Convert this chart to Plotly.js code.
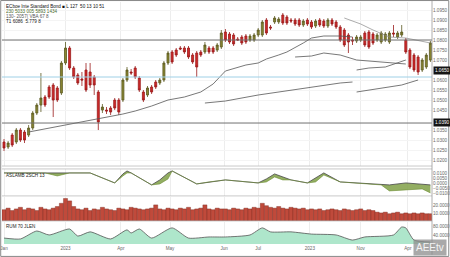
<!DOCTYPE html>
<html><head><meta charset="utf-8">
<script src="https://cdn.plot.ly/plotly-3.0.1.min.js"></script>
<style>html,body{margin:0;padding:0;background:#fff}#chart{width:450px;height:257px}</style>
</head><body><div id="chart"></div>
<script>
// ---- candle data (index positions) ----
const candleIdx = [0,1,2,3,4,5,6,7,8,9,10,11,12,13,14,15,16,17,18,19,20,21,22,23,24,25,26,27,28,29,30,31,32,33,34,35,36,37,38,39,40,41,42,43,44,45,46,47,48,49,50,51,52,53,54,55,56,57,58,59,60,61,62,63,64,65,66,67,68,69,70,71,72,73,74,75,76,77,78,79,80,81,82,83,84,85,86,87,88,89,90,91,92,93,94,95,96,97,98,99,100,101,102,103,104];
const openP = [1.0290,1.0265,1.0325,1.0290,1.0350,1.0340,1.0325,1.0360,1.0435,1.0475,1.0515,1.0565,1.0575,1.0560,1.0535,1.0685,1.0760,1.0660,1.0625,1.0605,1.0650,1.0640,1.0615,1.0540,1.0450,1.0450,1.0460,1.0500,1.0500,1.0500,1.0600,1.0640,1.0660,1.0610,1.0540,1.0525,1.0565,1.0590,1.0585,1.0600,1.0685,1.0740,1.0750,1.0760,1.0760,1.0760,1.0725,1.0735,1.0740,1.0740,1.0760,1.0760,1.0750,1.0765,1.0840,1.0830,1.0825,1.0805,1.0815,1.0820,1.0800,1.0800,1.0825,1.0825,1.0900,1.0865,1.0890,1.0890,1.0925,1.0915,1.0900,1.0900,1.0900,1.0875,1.0900,1.0890,1.0870,1.0900,1.0895,1.0870,1.0900,1.0890,1.0865,1.0850,1.0825,1.0800,1.0795,1.0800,1.0835,1.0840,1.0830,1.0800,1.0790,1.0800,1.0790,1.0835,1.0815,1.0825,1.0800,1.0750,1.0725,1.0715,1.0650,1.0665,1.0700];
const highP = [1.0305,1.0295,1.0335,1.0360,1.0360,1.0350,1.0375,1.0445,1.0485,1.0635,1.0525,1.0575,1.0585,1.0570,1.0695,1.0790,1.0770,1.0670,1.0635,1.0640,1.0685,1.0685,1.0625,1.0550,1.0480,1.0465,1.0470,1.0510,1.0510,1.0610,1.0665,1.0655,1.0670,1.0620,1.0550,1.0570,1.0575,1.0600,1.0610,1.0695,1.0745,1.0750,1.0760,1.0770,1.0770,1.0770,1.0735,1.0745,1.0750,1.0790,1.0770,1.0770,1.0785,1.0850,1.0855,1.0840,1.0835,1.0815,1.0825,1.0830,1.0830,1.0835,1.0860,1.0900,1.0910,1.0875,1.0920,1.0915,1.0935,1.0925,1.0910,1.0910,1.0910,1.0905,1.0910,1.0900,1.0905,1.0910,1.0905,1.0910,1.0910,1.0900,1.0875,1.0860,1.0835,1.0815,1.0825,1.0825,1.0845,1.0850,1.0840,1.0835,1.0845,1.0840,1.0845,1.0875,1.0845,1.0875,1.0810,1.0760,1.0735,1.0725,1.0710,1.0735,1.0795];
const lowP = [1.0245,1.0255,1.0265,1.0280,1.0290,1.0285,1.0315,1.0350,1.0425,1.0440,1.0465,1.0505,1.0415,1.0490,1.0525,1.0675,1.0650,1.0605,1.0575,1.0570,1.0540,1.0560,1.0525,1.0350,1.0435,1.0430,1.0425,1.0450,1.0425,1.0490,1.0590,1.0625,1.0605,1.0540,1.0490,1.0515,1.0530,1.0555,1.0575,1.0590,1.0675,1.0680,1.0715,1.0750,1.0730,1.0705,1.0680,1.0615,1.0715,1.0730,1.0730,1.0730,1.0740,1.0755,1.0790,1.0780,1.0770,1.0795,1.0775,1.0780,1.0790,1.0790,1.0815,1.0815,1.0825,1.0850,1.0880,1.0880,1.0875,1.0875,1.0885,1.0870,1.0865,1.0865,1.0870,1.0855,1.0860,1.0865,1.0860,1.0860,1.0870,1.0855,1.0790,1.0765,1.0735,1.0775,1.0785,1.0790,1.0765,1.0755,1.0775,1.0790,1.0780,1.0790,1.0780,1.0815,1.0805,1.0815,1.0730,1.0655,1.0640,1.0625,1.0640,1.0655,1.0690];
const closeP = [1.0260,1.0285,1.0275,1.0350,1.0300,1.0300,1.0360,1.0435,1.0475,1.0510,1.0475,1.0515,1.0500,1.0500,1.0685,1.0760,1.0660,1.0615,1.0585,1.0600,1.0550,1.0575,1.0575,1.0390,1.0465,1.0445,1.0440,1.0460,1.0440,1.0600,1.0650,1.0635,1.0615,1.0550,1.0500,1.0560,1.0540,1.0565,1.0600,1.0685,1.0735,1.0690,1.0725,1.0755,1.0740,1.0715,1.0690,1.0665,1.0725,1.0775,1.0740,1.0740,1.0775,1.0835,1.0800,1.0790,1.0780,1.0800,1.0785,1.0790,1.0820,1.0825,1.0850,1.0890,1.0835,1.0860,1.0910,1.0905,1.0885,1.0885,1.0895,1.0880,1.0875,1.0895,1.0880,1.0865,1.0895,1.0875,1.0870,1.0900,1.0880,1.0865,1.0800,1.0775,1.0790,1.0795,1.0815,1.0815,1.0775,1.0765,1.0785,1.0825,1.0835,1.0830,1.0835,1.0830,1.0835,1.0840,1.0740,1.0665,1.0650,1.0640,1.0700,1.0725,1.0785];

// ---- moving-average style lines ----
const maA_x = [6,11,16,20,23,29,32,36,40,44,48,51,54,59,62,64,67,69,73,75,78,82,85];
const maA_y = [1.0340,1.0360,1.0380,1.0395,1.0405,1.0430,1.0445,1.0470,1.0500,1.0515,1.0540,1.0580,1.0645,1.0675,1.0685,1.0705,1.0725,1.0740,1.0785,1.0810,1.0820,1.0820,1.0815];
const maB_x = [71,75,78,82,86,92,98];
const maB_y = [1.0715,1.0720,1.0735,1.0725,1.0700,1.0690,1.0680];
const maC_x = [86,89,93,98];
const maC_y = [1.0650,1.0660,1.0665,1.0700];
const maD_x = [49,54,62,70,75,82,85];
const maD_y = [1.0485,1.0495,1.0525,1.0550,1.0565,1.0585,1.0590];
const maE_x = [86,93,97,101];
const maE_y = [1.0540,1.0560,1.0575,1.0600];
const maF_x = [83,87,90,94,98,104];
const maF_y = [1.0910,1.0880,1.0850,1.0815,1.0810,1.0785];

// horizontal levels
const levels = [1.0800, 1.0615, 1.0385];
const levelColors = ['#707070', '#9fd0e6', '#707070'];

// ---- oscillator panel ----
const p2_x = [0,10,13,16,21,27,29,30,31,36,38,40,41,47,50,54,62,64,66,68,70,74,76,78,82,92,94,98,102,104];
const p2_main = [0.010,0.010,0.010,0.010,0.010,0.000,0.009,0.012,0.010,-0.002,0.003,0.010,0.012,-0.001,0.001,0.003,0.000,0.004,0.009,0.006,0.003,0.000,0.005,0.010,0.001,-0.002,-0.002,0.000,-0.001,-0.002];
const p2_signal = [0.010,0.010,0.007,0.010,0.010,0.000,0.007,0.010,0.010,-0.002,-0.001,0.004,0.012,-0.001,0.001,0.003,0.000,0.001,0.006,0.003,0.003,0.000,0.001,0.008,0.001,-0.002,-0.008,-0.007,-0.006,-0.010];

// ---- volume ----
const volume = [14,16,13,15,17,14,16,15,13,17,15,14,16,18,22,28,25,18,15,14,16,13,15,14,17,15,14,13,16,15,14,17,16,15,14,15,16,20,15,14,16,15,14,16,15,17,14,15,16,20,15,14,16,15,15,14,16,15,14,16,15,17,16,22,19,17,16,18,16,15,17,16,15,16,14,15,14,15,13,14,15,14,13,15,14,13,14,15,13,14,13,11,10,11,9,10,11,9,10,9,10,9,10,9,9];

// ---- RUM area panel ----
const p4_x = [0,4,8,11,16,18,21,26,30,31,33,36,41,45,50,54,60,63,65,70,75,81,85,88,95,97,98,100,104];
const p4_y = [27,23,59,41,68,36,55,23,64,50,68,27,73,27,32,32,41,73,55,55,45,41,18,32,41,77,73,18,9];

// ---- axis labels / texts ----
const xTickVals = [0,15,28.5,40.5,53.7,62,74.6,87,98.5];
const xTickText = ['Jan','2023','Apr','May','Jun','Jul','2023','Nov','Apr'];
const priceTicks = [1.020,1.025,1.030,1.035,1.045,1.050,1.055,1.060,1.070,1.075,1.080,1.085,1.090,1.095];
const p2Ticks = [-0.010,-0.005,0.000,0.005,0.010];
const volTicks = [10,20];
const p4Ticks = [40,80];
const legendLines = ['ECboe Inte Standard Bond \u25A0 L 127  50 13 10 51','230 5033 005 5893 1434','130- 2057( VBA 67 8','T1 6086  5.779 8'];
const legendColors = ['#111','#4a6a2a','#555','#222'];
const panel2Label = 'ASLAMB 2SCH 13';
const panel4Label = 'RUM 70 JLEN';
const priceMarks = [1.0650, 1.0390];

const lineStyle = {color:'#555', width:0.8};
const traces = [
  {type:'candlestick', x:candleIdx, open:openP, high:highP, low:lowP, close:closeP, yaxis:'y',
   increasing:{line:{color:'#5a5820', width:0.8}, fillcolor:'#8a8732'},
   decreasing:{line:{color:'#9a1a1a', width:0.8}, fillcolor:'#d02a2a'},
   whiskerwidth:0},
  {type:'scatter', mode:'lines', x:maA_x, y:maA_y, line:lineStyle, yaxis:'y'},
  {type:'scatter', mode:'lines', x:maB_x, y:maB_y, line:lineStyle, yaxis:'y'},
  {type:'scatter', mode:'lines', x:maC_x, y:maC_y, line:lineStyle, yaxis:'y'},
  {type:'scatter', mode:'lines', x:maD_x, y:maD_y, line:lineStyle, yaxis:'y'},
  {type:'scatter', mode:'lines', x:maE_x, y:maE_y, line:lineStyle, yaxis:'y'},
  {type:'scatter', mode:'lines', x:maF_x, y:maF_y, line:{color:'#888', width:0.7}, yaxis:'y'},
  {type:'scatter', mode:'lines', x:p2_x, y:p2_main, line:{color:'#444', width:0.8}, yaxis:'y2'},
  {type:'scatter', mode:'lines', x:p2_x, y:p2_signal, line:{color:'#6f8f35', width:0.6}, fill:'tonexty', fillcolor:'rgba(128,160,70,0.85)', yaxis:'y2'},
  {type:'bar', x:candleIdx, y:volume, yaxis:'y3', marker:{color:'#c04a3b', line:{color:'#7a2a20', width:0.4}}},
  {type:'scatter', mode:'lines', x:p4_x, y:p4_y, yaxis:'y4', line:{color:'#555', width:0.8, shape:'spline', smoothing:0.6}, fill:'tozeroy', fillcolor:'#aee6cb'}
];

const shapes = [];
levels.forEach((lv, k) => shapes.push({type:'line', xref:'paper', x0:0, x1:1, yref:'y', y0:lv, y1:lv, line:{color:levelColors[k], width:1}}));
[0.325, 0.313, 0.202, 0.099].forEach(p => shapes.push({type:'line', xref:'paper', x0:0, x1:1, yref:'paper', y0:p, y1:p, line:{color:'#bbb', width:0.8}}));
shapes.push({type:'line', xref:'paper', x0:1, x1:1, yref:'paper', y0:-0.04, y1:1.01, line:{color:'#999', width:0.8}});
shapes.push({type:'rect', xref:'paper', yref:'paper', x0:-0.003, x1:1.039, y0:-0.047, y1:1.006, line:{color:'#888', width:1}});

const annotations = [];
legendLines.forEach((t, k) => annotations.push({xref:'paper', yref:'paper', x:0.004, y:1 - k*0.021, xanchor:'left', yanchor:'top', text:t, showarrow:false, font:{family:'Liberation Sans, Arial', size:4.6, color:legendColors[k]}}));
annotations.push({xref:'paper', yref:'paper', x:0.004, y:0.305, xanchor:'left', yanchor:'top', text:panel2Label, showarrow:false, font:{family:'Liberation Sans, Arial', size:4.6, color:'#222'}});
annotations.push({xref:'paper', yref:'paper', x:0.004, y:0.093, xanchor:'left', yanchor:'top', text:panel4Label, showarrow:false, font:{family:'Liberation Sans, Arial', size:4.6, color:'#222'}});
priceMarks.forEach(pm => annotations.push({xref:'paper', yref:'y', x:1.003, y:pm, xanchor:'left', yanchor:'middle', text:pm.toFixed(4), showarrow:false, bgcolor:'#151515', borderpad:1, font:{family:'Liberation Sans, Arial', size:4.6, color:'#fff'}}));
annotations.push({xref:'paper', yref:'paper', x:1.035, y:-0.045, xanchor:'right', yanchor:'bottom', text:'AEEtv', showarrow:false, bgcolor:'rgba(140,140,140,0.75)', borderpad:2, font:{family:'Liberation Sans, Arial', size:10, color:'#f4f4f4'}});

const tickFont = {family:'Liberation Sans, Arial', size:4.6, color:'#666'};
const layout = {
  width:450, height:257,
  margin:{l:2, r:18, t:2, b:12},
  paper_bgcolor:'#fff', plot_bgcolor:'#fff',
  showlegend:false,
  bargap:0,
  xaxis:{anchor:'y4', range:[-0.49,104.39], rangeslider:{visible:false}, tickvals:xTickVals, ticktext:xTickText, tickfont:tickFont, showgrid:true, gridcolor:'#e8e8e8', gridwidth:0.8, zeroline:false, showline:false, ticks:'', ticklen:0},
  yaxis:{domain:[0.325,1], range:[1.017,1.099], side:'right', tickmode:'array', tickvals:priceTicks, tickformat:'.4f', tickfont:tickFont, showgrid:true, gridcolor:'#f4f4f4', zeroline:false},
  yaxis2:{domain:[0.202,0.313], range:[-0.013,0.014], side:'right', tickmode:'array', tickvals:p2Ticks, tickformat:'.4f', tickfont:tickFont, showgrid:false, zeroline:false},
  yaxis3:{domain:[0.099,0.198], range:[0,30], side:'right', tickmode:'array', tickvals:volTicks, tickformat:'.4f', tickfont:tickFont, showgrid:false, zeroline:false},
  yaxis4:{domain:[0.004,0.095], range:[0,100], side:'right', tickmode:'array', tickvals:p4Ticks, tickformat:'.4f', tickfont:tickFont, showgrid:false, zeroline:false},
  shapes:shapes,
  annotations:annotations
};
traces.forEach(t => { t.xaxis = 'x'; t.hoverinfo = 'skip'; });
Plotly.newPlot('chart', traces, layout, {staticPlot:true, displayModeBar:false});
</script>
</body></html>
